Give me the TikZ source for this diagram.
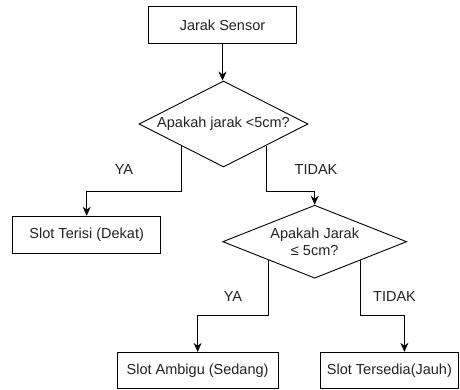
\documentclass[tikz,border=0pt]{standalone}
\usepackage{fontspec}
\setmainfont{Liberation Sans}
\usetikzlibrary{shapes.geometric,arrows.meta}
\definecolor{ink}{HTML}{222222}
\tikzset{
  procbox/.style={draw=black, line width=0.9pt, rectangle, inner sep=0pt,
    text=ink, font=\fontsize{14.5}{17.7}\selectfont},
  decision/.style={draw=black, line width=0.9pt, diamond, inner sep=0pt},
  qtext/.style={text=ink, font=\fontsize{14.5}{17.7}\selectfont, align=center, inner sep=0pt},
  branch/.style={text=ink, font=\fontsize{14.5}{17.7}\selectfont, inner sep=0pt},
  flow/.style={draw=black, line width=0.9pt, -{Stealth[length=9pt,width=8pt]}},
}
\begin{document}
\begin{tikzpicture}[x=1pt,y=-1pt]
  \useasboundingbox (0,0) rectangle (460,390);

  % start box
  \node[procbox, minimum width=148pt, minimum height=37.5pt] (src) at (222.5,25) {Jarak Sensor};

  % first decision
  \node[decision, minimum width=169pt, minimum height=86pt] (d1) at (223.5,124) {};
  \node[qtext] (d1t) at (d1.center) {Apakah jarak <5cm?};

  % near slot
  \node[procbox, minimum width=148pt, minimum height=37pt] (near) at (86.7,234.7) {Slot Terisi (Dekat)};

  % second decision
  \node[decision, minimum width=184pt, minimum height=73pt] (d2) at (314.7,241.7) {};
  \node[qtext] (d2t) at (d2.center) {Apakah Jarak\\≤ 5cm?};

  % lower outcomes
  \node[procbox, minimum width=161pt, minimum height=36.5pt] (mid) at (197.6,370.6) {Slot Ambigu (Sedang)};
  \node[procbox, minimum width=137.5pt, minimum height=36pt] (far) at (389.4,370.3) {Slot Tersedia(Jauh)};

  % connectors
  \draw[flow] (src.south) -- (src.south |- d1.north);
  \draw[flow] (d1.south west) -- ++(0,46) -| (near.north);
  \draw[flow] (d1.south east) -- ++(0,46) -| (d2.north);
  \draw[flow] (d2.south west) -- ++(0,55) -| (mid.north);
  \draw[flow] (d2.south east) -- ++(0,55) -| ([xshift=15pt]far.north);

  % branch labels
  \node[branch] (ya1) at (124,170) {YA};
  \node[branch] (no1) at (316,170) {TIDAK};
  \node[branch] (ya2) at (233,296.7) {YA};
  \node[branch] (no2) at (394.5,296.7) {TIDAK};
\end{tikzpicture}
\end{document}
